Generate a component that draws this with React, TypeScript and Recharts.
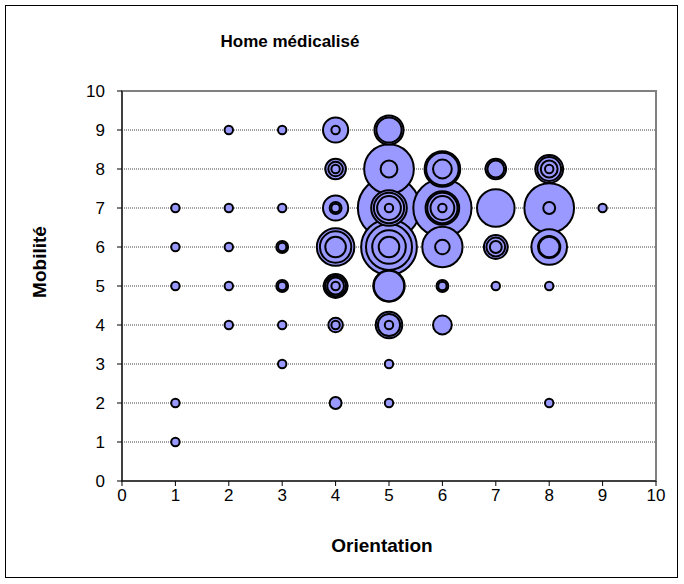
import {
  ScatterChart,
  Scatter,
  XAxis,
  YAxis,
  ZAxis,
  CartesianGrid,
  ReferenceArea,
} from "recharts";

// Each bubble: orientation score, mobility score, size (number of residents)
const orientation = [
  1, 1, 1, 1, 1,
  2, 2, 2, 2, 2,
  3, 3, 3, 3, 3, 3, 3, 3,
  4, 4, 4, 4, 4, 4, 4, 4, 4, 4, 4, 4, 4, 4, 4, 4, 4, 4,
  5, 5, 5, 5, 5, 5, 5, 5, 5, 5, 5, 5, 5, 5, 5, 5, 5, 5, 5, 5,
  6, 6, 6, 6, 6, 6, 6, 6, 6, 6, 6, 6, 6,
  7, 7, 7, 7, 7, 7, 7,
  8, 8, 8, 8, 8, 8, 8, 8, 8, 8, 8,
  9,
];
const mobilite = [
  7, 6, 5, 2, 1,
  9, 7, 6, 5, 4,
  9, 7, 6, 6, 5, 5, 4, 3,
  9, 9, 8, 8, 8, 7, 7, 7, 6, 6, 6, 5, 5, 5, 5, 4, 4, 2,
  9, 9, 8, 8, 7, 7, 7, 7, 7, 6, 6, 6, 6, 5, 5, 4, 4, 4, 3, 2,
  8, 8, 8, 7, 7, 7, 7, 7, 6, 6, 5, 5, 4,
  8, 8, 7, 6, 6, 6, 5,
  8, 8, 8, 8, 7, 7, 6, 6, 6, 5, 2,
  7,
];
const effectif = [
  1, 1, 1, 1, 1,
  1, 1, 1, 1, 1,
  1, 1, 2, 1, 2, 1, 1, 1,
  9, 1, 6, 3, 1, 9, 2, 1, 20, 14, 6, 8, 6, 4, 1, 3, 1, 2,
  12, 9, 35, 4, 55, 18, 13, 8, 1, 44, 30, 16, 6, 14, 13, 10, 7, 1, 1, 1,
  18, 15, 5, 48, 16, 13, 8, 1, 23, 3, 2, 1, 5,
  6, 4, 20, 8, 5, 2, 1,
  11, 8, 4, 1, 35, 2, 18, 7, 6, 1, 1,
  1,
];

const ticks = [0, 1, 2, 3, 4, 5, 6, 7, 8, 9, 10];

// larger bubbles first so the small ones stay visible on top
const points = orientation
  .map((x, i) => ({ x, y: mobilite[i], z: effectif[i] }))
  .sort((a, b) => b.z - a.z);

const maxZ = 55;
const unitArea = 55.4;
const font = "'Liberation Sans', Arial, sans-serif";

export default function App() {
  return (
    <div
      style={{
        position: "absolute",
        left: 0,
        top: 0,
        width: 684,
        height: 584,
        background: "#fff",
        fontFamily: font,
      }}
    >
      <div
        style={{
          position: "absolute",
          left: 5,
          top: 5,
          width: 673,
          height: 573,
          border: "1px solid #000",
          boxSizing: "border-box",
        }}
      />
      <div
        style={{
          position: "absolute",
          left: 290,
          top: 42,
          transform: "translate(-50%, -50%)",
          fontSize: 17,
          fontWeight: "bold",
          whiteSpace: "nowrap",
        }}
      >
        Home médicalisé
      </div>
      <div
        style={{
          position: "absolute",
          left: 40,
          top: 262,
          transform: "translate(-50%, -50%) rotate(-90deg)",
          fontSize: 19,
          fontWeight: "bold",
          whiteSpace: "nowrap",
        }}
      >
        Mobilité
      </div>
      <div
        style={{
          position: "absolute",
          left: 382,
          top: 546,
          transform: "translate(-50%, -50%)",
          fontSize: 19,
          fontWeight: "bold",
          whiteSpace: "nowrap",
        }}
      >
        Orientation
      </div>
      <ScatterChart
        width={684}
        height={584}
        margin={{ top: 91, right: 28, bottom: 73, left: 62 }}
        style={{ position: "absolute", left: 0, top: 0 }}
      >
        <CartesianGrid
          horizontal
          vertical={false}
          stroke="#444"
          strokeDasharray="1 1"
        />
        <ReferenceArea
          x1={0}
          x2={10}
          y1={0}
          y2={10}
          fill="none"
          stroke="#808080"
          strokeWidth={2}
        />
        <XAxis
          type="number"
          dataKey="x"
          domain={[0, 10]}
          ticks={ticks}
          height={30}
          tickSize={5}
          tickMargin={3}
          axisLine={{ stroke: "#000" }}
          tickLine={{ stroke: "#000" }}
          tick={{ fill: "#000", fontSize: 17, fontFamily: font }}
        />
        <YAxis
          type="number"
          dataKey="y"
          domain={[0, 10]}
          ticks={ticks}
          width={60}
          tickSize={5}
          tickMargin={12}
          axisLine={{ stroke: "#000" }}
          tickLine={{ stroke: "#000" }}
          tick={{ fill: "#000", fontSize: 17, fontFamily: font }}
        />
        <ZAxis
          type="number"
          dataKey="z"
          domain={[0, maxZ]}
          range={[0, maxZ * unitArea]}
        />
        <Scatter
          data={points}
          fill="#9999FF"
          stroke="#000"
          strokeWidth={2}
          isAnimationActive={false}
        />
      </ScatterChart>
    </div>
  );
}
